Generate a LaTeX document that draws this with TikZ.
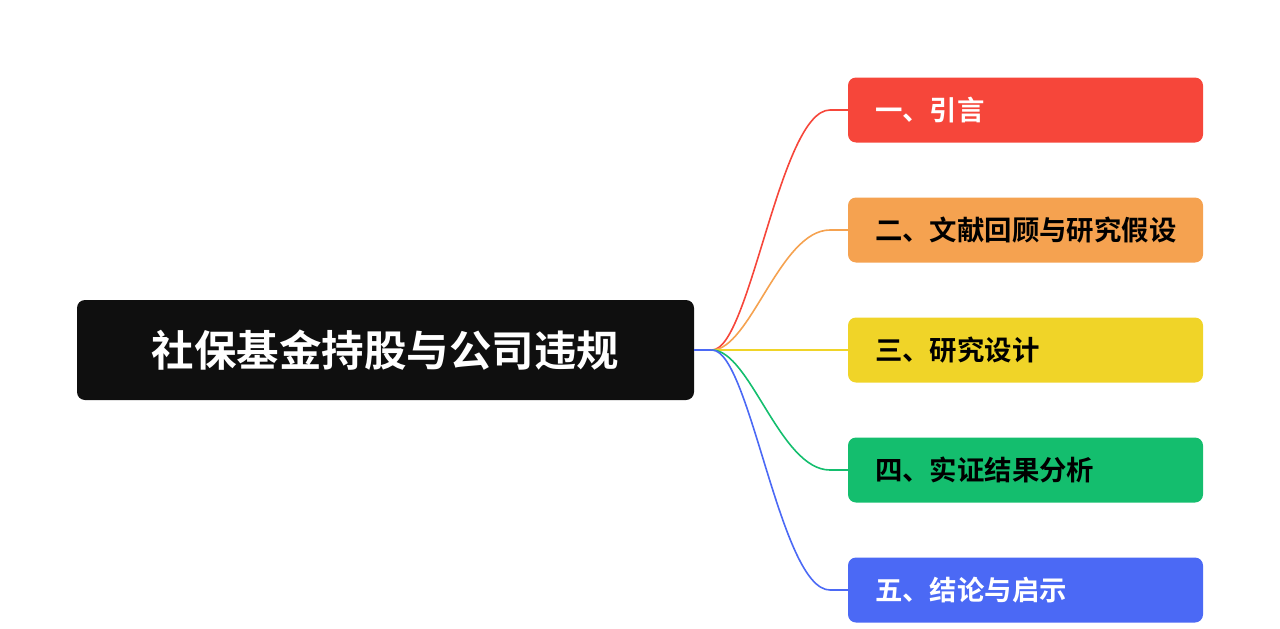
\documentclass[tikz,border=0pt]{standalone}
\usepackage{fontspec}
\newfontfamily\cjk{Noto Sans CJK SC}[BoldFont={Noto Sans CJK SC Bold}]
\definecolor{redbox}{RGB}{246,70,58}
\definecolor{orangebox}{RGB}{245,162,80}
\definecolor{yellowbox}{RGB}{240,212,40}
\definecolor{greenbox}{RGB}{20,190,110}
\definecolor{bluebox}{RGB}{75,105,245}
\definecolor{rootbox}{RGB}{15,15,15}
\tikzset{
  rootnode/.style={fill=rootbox,rounded corners=8pt,minimum width=617pt,minimum height=100pt,text=white,font=\cjk\bfseries\fontsize{42.5}{48}\selectfont},
  topic/.style={rounded corners=8pt,minimum width=355pt,minimum height=65pt,inner xsep=27pt,text width=301pt,align=left,font=\cjk\bfseries\fontsize{27.4}{32}\selectfont},
  branch/.style={line width=1.6pt}
}
\begin{document}
\begin{tikzpicture}[x=1pt,y=-1pt]
\useasboundingbox (0,0) rectangle (1280,629);
% root
\node[rootnode] (root) at (385.5,350) {社保基金持股与公司违规};
\coordinate (hub) at (712,350);
\draw[branch,bluebox] (root.east) -- (hub);
% topics
\node[topic,fill=redbox,text=white] (t1) at (1025.5,110) {一、引言};
\node[topic,fill=orangebox,text=black] (t2) at (1025.5,230) {二、文献回顾与研究假设};
\node[topic,fill=yellowbox,text=black] (t3) at (1025.5,350) {三、研究设计};
\node[topic,fill=greenbox,text=black] (t4) at (1025.5,470) {四、实证结果分析};
\node[topic,fill=bluebox,text=white] (t5) at (1025.5,590) {五、结论与启示};
% connectors
\foreach \t/\c/\y in {t1/redbox/110,t2/orangebox/230,t3/yellowbox/350,t4/greenbox/470,t5/bluebox/590}{
  \coordinate (tail\t) at (830,\y);
  \draw[branch,\c] (hub) .. controls (750,350) and (780,\y) .. (tail\t) -- (\t.west);
}
\end{tikzpicture}
\end{document}
